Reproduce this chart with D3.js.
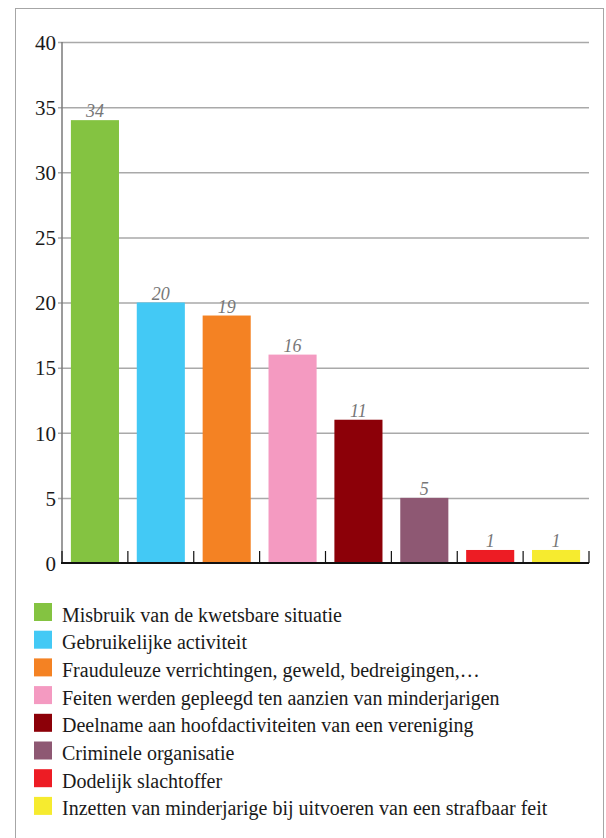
<!DOCTYPE html>
<html>
<head>
<meta charset="utf-8">
<script src="https://cdn.jsdelivr.net/npm/d3@7"></script>
<style>
  html, body { margin: 0; padding: 0; background: #fff; }
  svg { display: block; }
  svg text { font-family: "Liberation Serif", "Times New Roman", serif; }
</style>
</head>
<body>
<div id="chart"></div>
<script>
(function () {
'use strict';

// Categories, values and colours
const categories = [
  "Misbruik van de kwetsbare situatie",
  "Gebruikelijke activiteit",
  "Frauduleuze verrichtingen, geweld, bedreigingen,…",
  "Feiten werden gepleegd ten aanzien van minderjarigen",
  "Deelname aan hoofdactiviteiten van een vereniging",
  "Criminele organisatie",
  "Dodelijk slachtoffer",
  "Inzetten van minderjarige bij uitvoeren van een strafbaar feit"
];
const values = [34, 20, 19, 16, 11, 5, 1, 1];
const colors = ["#84c341", "#43c9f5", "#f48223", "#f49ac1", "#8c0008", "#8e5873", "#ed1c24", "#f6eb2f"];
const yTicks = [0, 5, 10, 15, 20, 25, 30, 35, 40];

const width = 606, height = 838;

const svg = d3.select("#chart").append("svg")
  .attr("width", width).attr("height", height);

// outer frame (open at the bottom of the picture)
svg.append("rect")
  .attr("x", 15.5).attr("y", 8.5)
  .attr("width", 588).attr("height", 900)
  .attr("fill", "none")
  .attr("stroke", "#a6a6a6")
  .attr("stroke-width", 1);

const plot = {left: 62, right: 589, top: 42, bottom: 563};

const x = d3.scaleBand()
  .domain(d3.range(values.length))
  .range([plot.left, plot.right])
  .paddingInner(0.27)
  .paddingOuter(0.135);

const y = d3.scaleLinear().domain([0, 40]).range([plot.bottom, plot.top]);

// gridlines + y labels
const yAxis = svg.append("g")
  .attr("transform", `translate(${plot.left},0)`)
  .call(d3.axisLeft(y).tickValues(yTicks).tickSize(-(plot.right - plot.left)).tickPadding(6));
yAxis.select(".domain").remove();
yAxis.attr("font-family", null);
yAxis.selectAll(".tick line")
  .attr("x1", -4)
  .attr("stroke", "#a9a9a9")
  .attr("stroke-width", 1.5);
yAxis.selectAll(".tick").filter(d => d === 0).select("line").remove();
yAxis.selectAll(".tick text")
  .attr("font-size", 21)
  .attr("fill", "#1a1a1a")
  .attr("dy", "0.35em");

// vertical y axis line
svg.append("line")
  .attr("x1", plot.left).attr("x2", plot.left)
  .attr("y1", y(40)).attr("y2", y(0))
  .attr("stroke", "#7a7a7a")
  .attr("stroke-width", 1.5);

// bars
svg.append("g").selectAll("rect")
  .data(values)
  .join("rect")
  .attr("x", (d, i) => x(i))
  .attr("y", d => y(d))
  .attr("width", x.bandwidth())
  .attr("height", d => y(0) - y(d))
  .attr("fill", (d, i) => colors[i]);

// value labels
svg.append("g").selectAll("text")
  .data(values)
  .join("text")
  .attr("x", (d, i) => x(i) + x.bandwidth() / 2)
  .attr("y", d => y(d) - 3)
  .attr("text-anchor", "middle")
  .attr("font-style", "italic")
  .attr("font-size", 18)
  .attr("fill", "#777")
  .text(d => d);

// x axis with upward ticks at band edges
const step = x.step();
const edges = d3.range(values.length + 1).map(i => plot.left + i * step);
const xAxisG = svg.append("g");
xAxisG.append("line")
  .attr("x1", plot.left - 1).attr("x2", plot.right)
  .attr("y1", plot.bottom).attr("y2", plot.bottom)
  .attr("stroke", "#111")
  .attr("stroke-width", 2);
xAxisG.selectAll("line.tk")
  .data(edges)
  .join("line")
  .attr("class", "tk")
  .attr("x1", d => d).attr("x2", d => d)
  .attr("y1", plot.bottom).attr("y2", plot.bottom - 12)
  .attr("stroke", "#111")
  .attr("stroke-width", 1.2);

// legend
const legend = svg.append("g").attr("transform", "translate(34,603)");
const rowH = 27.7;
const rows = legend.selectAll("g")
  .data(categories)
  .join("g")
  .attr("transform", (d, i) => `translate(0,${i * rowH})`);
rows.append("rect")
  .attr("width", 18).attr("height", 18)
  .attr("fill", (d, i) => colors[i]);
rows.append("text")
  .attr("x", 28).attr("y", 18.5)
  .attr("font-size", 20)
  .attr("fill", "#1a1a1a")
  .text(d => d);
})();
</script>
</body>
</html>
